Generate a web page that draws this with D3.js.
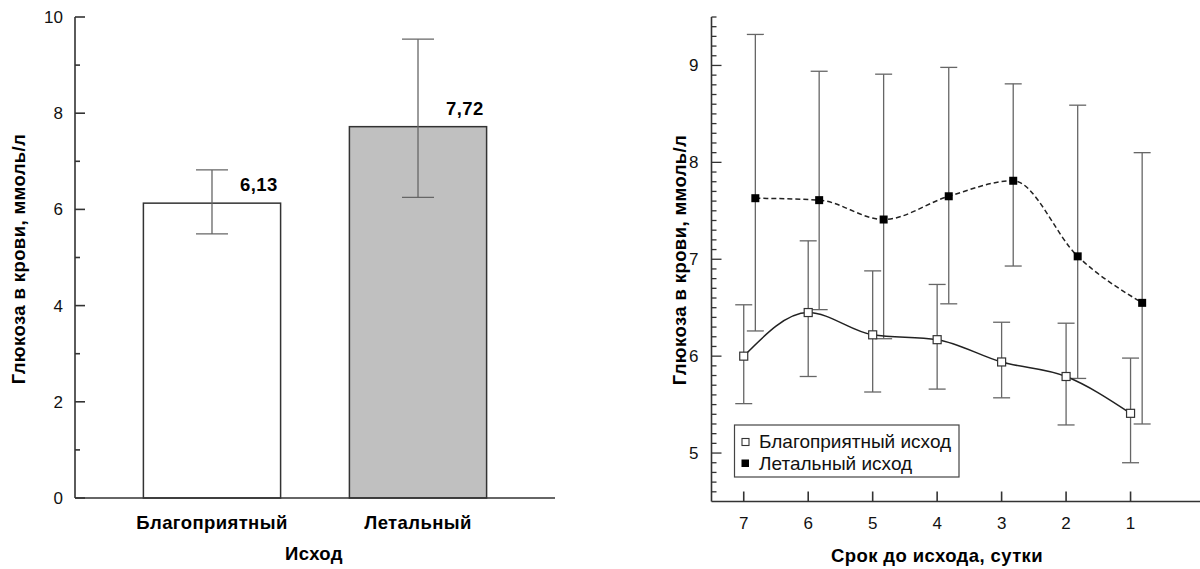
<!DOCTYPE html>
<html>
<head>
<meta charset="utf-8">
<script src="https://cdn.jsdelivr.net/npm/d3@7"></script>
<style>
  html, body { margin: 0; padding: 0; background: #fff; }
  svg { display: block; font-family: "Liberation Sans", Arial, sans-serif; }
</style>
</head>
<body>
<svg id="chart" width="1200" height="569"></svg>
<script>
// ---- Bar chart: mean glucose by outcome ----
const outcomes = ["Благоприятный", "Летальный"];
const outcomeMeans = [6.13, 7.72];
const outcomeLow = [5.49, 6.25];
const outcomeHigh = [6.82, 9.54];
const outcomeFill = ["#ffffff", "#c0c0c0"];
const barTicks = [0, 2, 4, 6, 8, 10];

// ---- Line chart: glucose by days before outcome ----
const days = [7, 6, 5, 4, 3, 2, 1];
const goodX = [7, 6, 5, 4, 3, 2, 1];
const goodMean = [6.00, 6.45, 6.22, 6.17, 5.94, 5.79, 5.41];
const goodLow = [5.51, 5.79, 5.63, 5.66, 5.57, 5.29, 4.90];
const goodHigh = [6.53, 7.19, 6.88, 6.74, 6.35, 6.34, 5.98];
const lethalX = [6.82, 5.83, 4.83, 3.82, 2.82, 1.82, 0.82];
const lethalMean = [7.63, 7.61, 7.41, 7.65, 7.81, 7.03, 6.55];
const lethalLow = [6.26, 6.48, 6.18, 6.54, 6.93, 5.77, 5.30];
const lethalHigh = [9.32, 8.94, 8.91, 8.98, 8.81, 8.59, 8.10];
const lineTicks = [5, 6, 7, 8, 9];
const legendLabels = ["Благоприятный исход", "Летальный исход"];

const svg = d3.select("#chart");
const axisColor = "#333";
const errColor = "#666";
const boldSize = 18.5;
const boldSpacing = 0.4;

// ================= Left panel =================
const L = { left: 75, right: 555, top: 17, bottom: 498 };
const yL = d3.scaleLinear().domain([0, 10]).range([L.bottom, L.top]);
const xL = d3.scaleBand().domain(outcomes).range([L.left, L.right]).paddingInner(0.334).paddingOuter(0.332);
const gL = svg.append("g");

// bars
gL.selectAll("rect.bar").data(outcomes).join("rect").attr("class", "bar")
  .attr("x", d => xL(d))
  .attr("y", (d, i) => yL(outcomeMeans[i]))
  .attr("width", xL.bandwidth())
  .attr("height", (d, i) => yL(0) - yL(outcomeMeans[i]))
  .attr("fill", (d, i) => outcomeFill[i])
  .attr("stroke", axisColor)
  .attr("stroke-width", 1.5);

// error bars
const capL = 16;
outcomes.forEach((d, i) => {
  const cx = xL(d) + xL.bandwidth() / 2;
  const g = gL.append("g").attr("stroke", errColor).attr("stroke-width", 1.3);
  g.append("line").attr("x1", cx).attr("x2", cx).attr("y1", yL(outcomeLow[i])).attr("y2", yL(outcomeHigh[i]));
  g.append("line").attr("x1", cx - capL).attr("x2", cx + capL).attr("y1", yL(outcomeLow[i])).attr("y2", yL(outcomeLow[i]));
  g.append("line").attr("x1", cx - capL).attr("x2", cx + capL).attr("y1", yL(outcomeHigh[i])).attr("y2", yL(outcomeHigh[i]));
});

// value labels
gL.selectAll("text.val").data(outcomes).join("text").attr("class", "val")
  .attr("x", d => xL(d) + xL.bandwidth() - 3)
  .attr("y", (d, i) => yL(outcomeMeans[i]) - 12)
  .attr("text-anchor", "end")
  .attr("font-size", boldSize).attr("font-weight", "bold").attr("letter-spacing", boldSpacing)
  .text((d, i) => outcomeMeans[i].toFixed(2).replace(".", ","));

// y axis: line, ticks pointing inward, labels
gL.append("line").attr("x1", L.left).attr("x2", L.left).attr("y1", L.top).attr("y2", L.bottom)
  .attr("stroke", axisColor).attr("stroke-width", 1.6);
gL.selectAll("line.ytick").data(d3.range(0, 11, 1)).join("line").attr("class", "ytick")
  .attr("x1", L.left).attr("x2", d => L.left + (d % 2 === 0 ? 10 : 5))
  .attr("y1", d => yL(d)).attr("y2", d => yL(d))
  .attr("stroke", axisColor).attr("stroke-width", 1.6);
gL.selectAll("text.ytl").data(barTicks).join("text").attr("class", "ytl")
  .attr("x", L.left - 12).attr("y", d => yL(d) + 6)
  .attr("text-anchor", "end").attr("font-size", 17).attr("fill", "#111")
  .text(d => d);

// x axis
gL.append("line").attr("x1", L.left).attr("x2", L.right).attr("y1", L.bottom).attr("y2", L.bottom)
  .attr("stroke", axisColor).attr("stroke-width", 1.6);
gL.selectAll("text.xtl").data(outcomes).join("text").attr("class", "xtl")
  .attr("x", d => xL(d) + xL.bandwidth() / 2).attr("y", 529)
  .attr("text-anchor", "middle").attr("font-size", boldSize).attr("font-weight", "bold").attr("letter-spacing", boldSpacing)
  .text(d => d);
gL.append("text").attr("x", 314).attr("y", 560).attr("text-anchor", "middle")
  .attr("font-size", boldSize).attr("font-weight", "bold").attr("letter-spacing", boldSpacing).text("Исход");
gL.append("text").attr("transform", `translate(25,259) rotate(-90)`)
  .attr("text-anchor", "middle").attr("font-size", boldSize).attr("font-weight", "bold").attr("letter-spacing", boldSpacing)
  .text("Глюкоза в крови, ммоль/л");

// ================= Right panel =================
const R = { left: 711.5, right: 1200, top: 17, bottom: 501.5 };
const xR = d3.scaleLinear().domain([7.5, 0]).range([R.left, R.left + 7.5 * 64.47]);
const yR = d3.scaleLinear().domain([4.5, 9.5]).range([R.bottom, R.top]);
const gR = svg.append("g");

// y axis with minor ticks every 0.1
const minor = d3.range(46, 96).map(v => v / 10);
gR.append("line").attr("x1", R.left).attr("x2", R.left).attr("y1", R.top).attr("y2", R.bottom)
  .attr("stroke", axisColor).attr("stroke-width", 1.6);
gR.selectAll("line.ytick").data(minor).join("line").attr("class", "ytick")
  .attr("x1", R.left)
  .attr("x2", d => R.left + (Math.abs(d - Math.round(d)) < 1e-6 ? 10 : 5))
  .attr("y1", d => yR(d)).attr("y2", d => yR(d))
  .attr("stroke", axisColor).attr("stroke-width", 1.3);
gR.selectAll("text.ytl").data(lineTicks).join("text").attr("class", "ytl")
  .attr("x", R.left - 13).attr("y", d => yR(d) + 6)
  .attr("text-anchor", "end").attr("font-size", 17).attr("fill", "#111")
  .text(d => d);

// x axis, ticks pointing up
gR.append("line").attr("x1", R.left).attr("x2", R.right).attr("y1", R.bottom).attr("y2", R.bottom)
  .attr("stroke", axisColor).attr("stroke-width", 1.6);
gR.selectAll("line.xtick").data(days).join("line").attr("class", "xtick")
  .attr("x1", d => xR(d)).attr("x2", d => xR(d))
  .attr("y1", R.bottom).attr("y2", R.bottom - 10)
  .attr("stroke", axisColor).attr("stroke-width", 1.6);
gR.selectAll("text.xtl").data(days).join("text").attr("class", "xtl")
  .attr("x", d => xR(d)).attr("y", 529)
  .attr("text-anchor", "middle").attr("font-size", 17).attr("fill", "#111")
  .text(d => d);
gR.append("text").attr("x", 937).attr("y", 562).attr("text-anchor", "middle")
  .attr("font-size", boldSize).attr("font-weight", "bold").attr("letter-spacing", boldSpacing).text("Срок до исхода, сутки");
gR.append("text").attr("transform", `translate(686,260) rotate(-90)`)
  .attr("text-anchor", "middle").attr("font-size", boldSize).attr("font-weight", "bold").attr("letter-spacing", boldSpacing)
  .text("Глюкоза в крови, ммоль/л");

// error bars
const capR = 8.5;
function drawErrors(xs, lows, highs) {
  const g = gR.append("g").attr("stroke", errColor).attr("stroke-width", 1.3);
  xs.forEach((x, i) => {
    const cx = xR(x);
    g.append("line").attr("x1", cx).attr("x2", cx).attr("y1", yR(lows[i])).attr("y2", yR(highs[i]));
    g.append("line").attr("x1", cx - capR).attr("x2", cx + capR).attr("y1", yR(lows[i])).attr("y2", yR(lows[i]));
    g.append("line").attr("x1", cx - capR).attr("x2", cx + capR).attr("y1", yR(highs[i])).attr("y2", yR(highs[i]));
  });
}
drawErrors(goodX, goodLow, goodHigh);
drawErrors(lethalX, lethalLow, lethalHigh);

// smoothed lines
const line = d3.line().curve(d3.curveMonotoneX);
function pts(xs, ys) { return xs.map((x, i) => [xR(x), yR(ys[i])]).sort((a, b) => a[0] - b[0]); }
gR.append("path").attr("d", line(pts(goodX, goodMean)))
  .attr("fill", "none").attr("stroke", "#222").attr("stroke-width", 1.5);
gR.append("path").attr("d", line(pts(lethalX, lethalMean)))
  .attr("fill", "none").attr("stroke", "#222").attr("stroke-width", 1.5).attr("stroke-dasharray", "5,3");

// markers
const ms = 8;
gR.selectAll("rect.good").data(goodX).join("rect").attr("class", "good")
  .attr("x", d => xR(d) - ms / 2).attr("y", (d, i) => yR(goodMean[i]) - ms / 2)
  .attr("width", ms).attr("height", ms)
  .attr("fill", "#fff").attr("stroke", "#333").attr("stroke-width", 1.2);
gR.selectAll("rect.lethal").data(lethalX).join("rect").attr("class", "lethal")
  .attr("x", d => xR(d) - ms / 2).attr("y", (d, i) => yR(lethalMean[i]) - ms / 2)
  .attr("width", ms).attr("height", ms)
  .attr("fill", "#000");

// legend
const lg = gR.append("g");
lg.append("rect").attr("x", 734.5).attr("y", 425).attr("width", 224.5).attr("height", 52)
  .attr("fill", "#fff").attr("stroke", "#444").attr("stroke-width", 1.2);
lg.append("rect").attr("x", 742).attr("y", 438.5).attr("width", 7).attr("height", 7)
  .attr("fill", "#fff").attr("stroke", "#333").attr("stroke-width", 1.1);
lg.append("rect").attr("x", 741.5).attr("y", 459.5).attr("width", 7.5).attr("height", 7.5)
  .attr("fill", "#000");
lg.selectAll("text").data(legendLabels).join("text")
  .attr("x", 759).attr("y", (d, i) => 448 + i * 21.5)
  .attr("font-size", 19).attr("fill", "#111")
  .text(d => d);
</script>
</body>
</html>
